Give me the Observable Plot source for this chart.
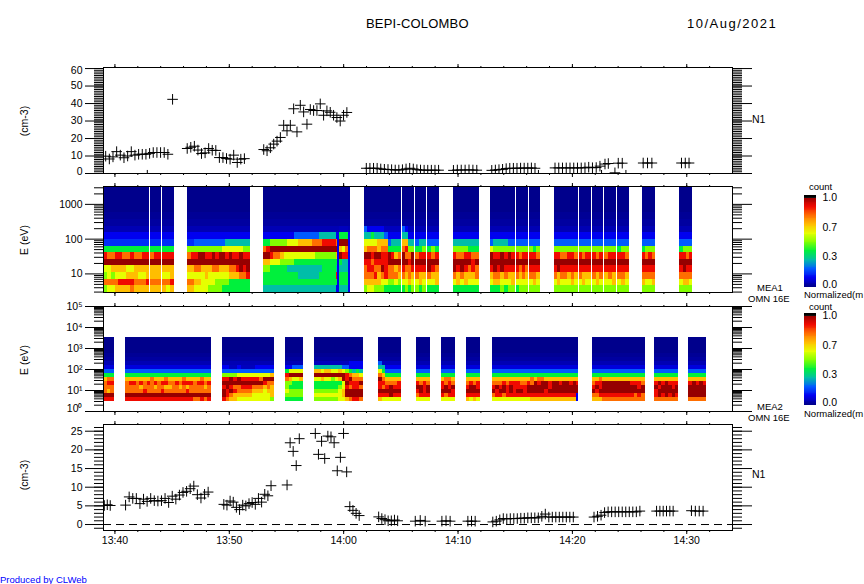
<!DOCTYPE html>
<html><head><meta charset="utf-8">
<script src="https://cdn.jsdelivr.net/npm/d3@7"></script>
<script src="https://cdn.jsdelivr.net/npm/@observablehq/plot@0.6"></script>
<style>
html,body{margin:0;padding:0;background:#fff}
#page{position:relative;width:864px;height:584px;overflow:hidden;font-family:"Liberation Sans",sans-serif;color:#000}
#page svg{position:absolute;left:0;display:block}
.t{position:absolute;white-space:nowrap;font-size:10.5px;line-height:9px}
.r{transform:translate(-50%,-50%) rotate(-90deg);transform-origin:center;line-height:12px}
</style></head><body><div id="page"></div>
<script>
// ---- scatter panels: [first minute after 13:00, last minute, values]
const n1Top = [
  [39.19,44.63,[9.9,8.3,9.5,12.5,10.5,9,10,12.5,10.5,11,11,11,11.5,12,12,12,12,11]],
  [45.04,45.04,[42.4]],
  [46.32,51.32,[14.3,15,15.6,13.4,11.4,11.8,14.3,13.3,13.2,9.1,9.1,8.6,8.2,10.5,6.3,8.2,8.5]],
  [53.01,60.28,[13.7,13,14.7,16.8,18.5,20.6,27.6,24.4,27.6,37,23.8,39,35.2,28.2,36.6,36,36,39.8,33.3,35.8,35,33.3,32,30,33.3,34.9]],
  [61.98,68.3,[3,3,3,3,2.6,2.4,2.3,2.2,2,2,2.2,2.6,3,2.6,2.2,2,1.9,1.9,1.9,1.9,1.9]],
  [69.6,71.64,[1.8,2,2,2,2.1,2,1.9]],
  [72.95,76.73,[1.8,2,2.2,2.4,2.8,3,3,3,3.1,3.1,3.1,3.2,3]],
  [78.48,82.41,[3.2,3.2,3.2,3.2,3.2,3.2,3.2,3.2,3.3,3.6,3.3,3.4,4.2]],
  [82.85,83.14,[5.4,5.7]],
  [84.01,84.36,[5.9,5.9]],
  [86.19,86.95,[6,6,6]],
  [89.54,90.2,[6,6,6]],
  [42.83,42.83,[-1]],[77.03,77.03,[-1]],[82.55,82.55,[-1]],[83.72,83.72,[0.4]],[84.68,84.68,[-1]]
];
const n1Bottom = [
  [39.07,39.59,[5.1,5.3,5.1]],
  [40.93,48.15,[5.2,7.4,7,7,5.6,6.8,6.2,7,6.4,6.3,6.4,7,5.9,7.6,6.8,7.9,8.6,8.9,9.6,10.3,8,7.1,8.1,8.7]],
  [49.52,53.65,[5.4,5.2,6.3,6,4.6,4,5.2,5,5.6,5.9,5.4,7,6,8.1,7.7,10.4]],
  [55.05,56.12,[10.6,21.9,19.6,15.8,23]],
  [57.52,61.36,[24.4,18.8,22.3,17.7,23.7,23.5,21.9,14.4,18,24.4,14.1,4.8,3.8,3,2.4]],
  [63.06,64.72,[2.05,1.6,1.3,1,1,1.2,1]],
  [66.26,67.13,[0.9,1.1,0.9]],
  [68.59,69.31,[0.9,1,0.9]],
  [70.86,71.5,[0.9,0.9,0.9]],
  [73.04,80.08,[0.7,0.9,1.25,1.6,1.5,1.6,1.6,1.6,1.7,1.7,1.8,1.8,1.8,1.8,2.2,2.8,2,2,2,2,2,2,2,2]],
  [81.89,85.9,[2,2.2,2.5,3.2,3.4,3.4,3.4,3.4,3.4,3.4,3.4,3.4,3.4,3.6]],
  [87.36,88.81,[3.6,3.6,3.6,3.6,3.6,3.6]],
  [90.41,91.43,[3.7,3.6,3.6,3.6]]
];
// ---- spectrogram channels (eV edges, top to bottom)
const energyEdges = [3266,2108,1358,877,565,365,235,152,98,63,40.6,26.2,16.9,10.9,7.03,4.54,2.92];
const mea1Upper = [0,0,0,0,0.01,0.02,0.04,0.1];
const mea2Upper = [0,0,0,0,0.01,0.02,0.04,0.08];
// blocks: [start minute, end minute, rows for the lowest channels, top to bottom]
// row digit = normalized count x 10 (a = 1.0, - = 0.05, + = 0.15)
const mea1Blocks = [
 [39,43.06,["111111111111","++++++++++++","444444444444","988998898899","aaaaaaaaaaaa","667777667777","565666777667","888899998889","566777787777"]],
 [43.14,44.08,["111","+++","444","899","aaa","777","777","888","777"]],
 [44.19,45.21,["111","+++","444","999","aaa","777","667","889","767"]],
 [46.35,51.85,["111111111111111111","++2222222223333333","555555555566666655","899aa99a9aa9a99a99","aaaaaaaaaaaaaaaaaa","778877788777889a9a","666667666666777889","887766665555444444","776666555544444444"]],
 [52.99,59.38,["111111111222222233333","445555566677778889999","89aaaaaaaaaaaaaaaaaaa","aa9887666666666555555","776665555444444444444","554444433333333334444","444444444433333344444","444444444444444444444","333333333333333333333"]],
 [59.38,59.47,["1","8","a","7","4","3","9","4","1"]],
 [59.47,59.6,["1","1","1","1","1","1","1","1","1"]],
 [59.63,60.42,["-","444","aaa","768","a99","433","333","444","444","333"]],
 [60.42,60.6,["1","1","1","1","1","1","1","1","1"]],
 [61.81,65.07,["211111-----","33433321111","66667772333","78887884444","aa9aa99a978","9989999aaaa","89988a98878","88897898887","77777665565","56655544444"]],
 [65.13,66.2,["21--","3311","7733","8955","a88a","aa9a","9889","8787","6676","4545"]],
 [66.29,67.25,["111","233","445","899","aaa","999","877","676","545"]],
 [67.34,68.36,["111","222","454","989","aaa","a98","877","667","444"]],
 [69.58,71.85,["1111111","3333333","5555444","9889988","aaaaa9a","a9a9898","8787778","6767666","4444444"]],
 [72.81,75,["1111111","2333322","6555555","a99a9a9","aaaaaaa","9a9a999","7887877","6776667","4445455"]],
 [75.08,76.16,["1111","2222","5555","9899","aaaa","9898","8787","6666","4555"]],
 [76.25,77.18,["111","222","545","998","aaa","999","887","676","555"]],
 [78.4,80.5,["1111111","2222222","5555555","9988998","aaaaaaa","9a99999","8788787","6766676","5555555"]],
 [80.59,81.66,["1111","2222","5555","9899","aaaa","9999","8777","6766","5555"]],
 [81.75,82.71,["111","222","555","989","aaa","999","878","676","555"]],
 [82.8,83.85,["111","222","555","899","aaa","999","787","667","555"]],
 [83.93,84.95,["111","222","455","998","aaa","999","887","676","555"]],
 [86.09,87.28,["1111","2222","4555","9898","aaaa","9999","8888","7667","5555"]],
 [89.4,90.54,["1111","2222","4555","9989","aaaa","9a99","8888","6776","5555"]]
];
const mea2Blocks = [
 [39.01,39.97,["222","444","788","899","888","878","aaa","999"]],
 [40.93,48.44,["222222222222222222222222","444444444444444444444444","777777787778777787777877","899898989899889899989989","888878887887788787888878","888889888898888889888888","aaaaaaaaaaaaaaaaaaaaaaaa","999999999999999999988989"]],
 [49.41,53.95,["11--1----11111","22222222222222","55556666666667","99a9a999998aaa","aaaaaaaaaaa988","9a988999888787","a9a98888777677","a9877777666667","98776666666665"]],
 [54.91,56.48,["11222","46666","9aaaa","87667","55444","54444","65555","55555","44444"]],
 [57.44,61.72,["----------1111","33333333221111","77677667654343","aaaaaaaaa98776","66766567a9a888","444444446a999a","44444445698998","555555567aaaaa","666666667aaaaa","55555556678998"]],
 [63.03,65.04,["2-----","331111","642222","874444","a87777","998889","989a99","aaaaaa","999a99","766666"]],
 [66.35,67.57,["2222","4444","7777","9898","aa9a","9a9a","8999","6666"]],
 [68.53,69.76,["2222","4444","7887","9898","9a9a","aaa9","9899","6666"]],
 [70.72,71.94,["2222","4444","7777","8989","9aa9","aaaa","9999","7676"]],
 [72.99,80.37,["222222222222222222222222","444444444444444444444444","777777777778788777777777","888989998898a9aa9aa9aa9a","9a9a9a9999aaaaaa9aaaaaaa","a9aa9a9aa9aaaaa9aaaaaaaa","899899999999999999999999","666666666667777777777777"]],
 [80.37,80.5,["2","4","7","9","a","a","1","1"]],
 [81.72,86.35,["222222222222222","444444444444444","778777777777777","899aaaaaaaa9998","9a9aaaaaaaaaa9a","a9aaaaaaaaaaaaa","889999999999898","777888888888888"]],
 [87.22,89.32,["2222222","4444444","7777777","9a9a999","a9aaa9a","9aaaaaa","9a9a9a9","8888888"]],
 [90.19,91.76,["22222","44444","77777","9a9a9","aaaaa","aaaaa","aaaaa","88888"]]
];
// ---- colour table
const colorLevels = [0,0.1,0.2,0.3,0.4,0.5,0.6,0.7,0.8,0.9,1];
const colorValues = ["#00008c","#0000f0","#005aff","#00bea8","#00f03c","#82ff00","#e6ff00","#ffbe00","#ff6e00","#f00a00","#960000"];
const timeMajor = [40,50,60,70,80,90];
const hhmm = ["13:40","13:50","14:00","14:10","14:20","14:30"];

const FONT = '"Liberation Sans",sans-serif';
const at = m => new Date(Date.UTC(2021,7,10,13,0) + m*60000);
const xDomain = [at(39), at(94)];
const majorT = timeMajor.map(at);
const minorT = d3.range(40,94,2).map(at);
const color = {type:"linear",domain:colorLevels,range:colorValues,interpolate:"rgb"};
const page = document.getElementById("page");

const pts = segs => segs.flatMap(([a,b,vs]) => vs.map((v,i)=>({t:at(vs.length>1? a+(b-a)*i/(vs.length-1):a),v})));
const decode = c => c==="-"?0.05 : c==="+"?0.15 : parseInt(c,11)/10;
function cells(blocks, upper){
  const out=[];
  for(const [a,b,rows] of blocks){
    const first=16-rows.length;
    for(let ch=0;ch<16;ch++){
      const row= ch>=first? rows[ch-first] : null;
      const n= row? row.length : 1;
      for(let i=0;i<n;i++){
        const v= row? decode(row[i]) : upper[ch];
        out.push({t1:at(a+(b-a)*i/n),t2:at(a+(b-a)*(i+1)/n),e1:energyEdges[ch+1],e2:energyEdges[ch],v});
      }
    }
  }
  return out;
}
const noText={fill:"none",label:null};
// yLabels: [[tick values], vertical text shift] groups, so that end labels sit just inside like the original
function frameAxes(yMajor,yMinor,fmt,yLabels,bottomLabels){
  return [
    Plot.axisX({anchor:"top",ticks:majorT,tickSize:4,...noText}),
    Plot.axisX({anchor:"top",ticks:minorT,tickSize:2,...noText}),
    bottomLabels
      ? Plot.axisX({anchor:"bottom",ticks:majorT,tickSize:4,tickPadding:2,label:null,fontSize:10.5,tickFormat:d=>hhmm[majorT.findIndex(q=>+q===+d)]})
      : Plot.axisX({anchor:"bottom",ticks:majorT,tickSize:4,...noText}),
    Plot.axisX({anchor:"bottom",ticks:minorT,tickSize:2,...noText}),
    Plot.axisY({anchor:"left",ticks:yMinor,tickSize:9,...noText}),
    Plot.axisY({anchor:"left",ticks:yMajor,tickSize:18,...noText}),
    ...yLabels.map(([ticks,dy])=>Plot.axisY({anchor:"left",ticks,tickSize:0,tickPadding:21,label:null,fontSize:10.5,dy,tickFormat:fmt})),
    Plot.axisY({anchor:"right",ticks:yMinor,tickSize:9,...noText}),
    Plot.axisY({anchor:"right",ticks:yMajor,tickSize:19,...noText}),
    Plot.frame({stroke:"#000",strokeWidth:1})
  ];
}
function panel(top,bottom,extraBottom,y,marks){
  const mt=6,mb=extraBottom;
  const svg=Plot.plot({width:864,height:bottom-top+mt+mb,marginLeft:103,marginRight:132,marginTop:mt,marginBottom:mb,
    style:{background:"transparent",fontFamily:FONT,fontSize:"10.5px",color:"#000"},
    x:{type:"utc",domain:xDomain,axis:null},y:{...y,axis:null},color,marks});
  svg.style.top=(top-mt)+"px";
  page.appendChild(svg);
}
const plusMark=segs=>Plot.dot(pts(segs),{x:"t",y:"v",symbol:"plus",r:3.5,stroke:"#000",strokeWidth:1,clip:true});
const specMark=(blocks,upper)=>Plot.rect(cells(blocks,upper),{x1:"t1",x2:"t2",y1:"e1",y2:"e2",fill:"v",shapeRendering:"crispEdges"});
const decades=(lo,hi)=>d3.range(lo,hi).flatMap(p=>[2,3,4,5,6,7,8,9].map(k=>k*10**p));
const sup=["\u2070","\u00b9","\u00b2","\u00b3","\u2074","\u2075"];

// panel 1: density
panel(67,173,6,{type:"linear",domain:[0,60.6]},[
  plusMark(n1Top),
  ...frameAxes([0,10,20,30,40,50,60],d3.range(0,61),d=>String(d),[[[10,20,30,40,50],0],[[60],2],[[0],-2]],false)
]);
// panel 2: MEA1 spectrogram
panel(186,292,6,{type:"log",domain:[2.92,3266]},[
  specMark(mea1Blocks,mea1Upper),
  ...frameAxes([10,100,1000],[3,4,5,6,7,8,9,...decades(1,3),2000,3000],d=>String(d),[[[10,100,1000],0]],false)
]);
// panel 3: MEA2 spectrogram
panel(306,411,6,{type:"log",domain:[1,1e5]},[
  specMark(mea2Blocks,mea2Upper),
  ...frameAxes([1,10,100,1e3,1e4,1e5],decades(0,5),d=>"10"+sup[Math.round(Math.log10(d))],[[[10,100,1e3,1e4,1e5],0],[[1],-3]],false)
]);
// panel 4: density
panel(424,530,24,{type:"linear",domain:[-1.6,26.8]},[
  Plot.ruleY([0],{stroke:"#000",strokeWidth:1,strokeDasharray:"8 5"}),
  plusMark(n1Bottom),
  ...frameAxes([0,5,10,15,20,25],d3.range(-1,27),d=>String(d),[[[0,5,10,15,20,25],0]],true)
]);

// colour bars
const barLevels=d3.range(0,1,0.01);
function colorbar(top){
  const mt=9,mb=5;
  const barAxis=(ticks,dy)=>Plot.axisY({anchor:"right",ticks,tickSize:0,tickPadding:6,label:null,fontSize:10.5,dy,tickFormat:d=>d.toFixed(1)});
  const svg=Plot.plot({width:60,height:92+mt+mb,marginLeft:9,marginRight:39,marginTop:mt,marginBottom:mb,
    style:{background:"transparent",fontFamily:FONT,fontSize:"10.5px",color:"#000"},
    x:{domain:[0,1],axis:null},y:{domain:[0,1.033],axis:null},color,
    marks:[
      Plot.rect(barLevels,{x1:0,x2:1,y1:d=>d,y2:d=>d+0.01,fill:d=>d,shapeRendering:"crispEdges"}),
      Plot.rect([1],{x1:0,x2:1,y1:1,y2:1.033,fill:"#000"}),
      barAxis([1/3,2/3,1],-1),
      barAxis([0],-3)
    ]});
  svg.style.top=(top-mt)+"px"; svg.style.left="795px";
  page.appendChild(svg);
}
colorbar(195); colorbar(313);

// text
const small={fontSize:"9.5px"};
const labels=[
  ["BEPI-COLOMBO",366,19,{fontSize:"13px",letterSpacing:"0.2px"}],
  ["10/Aug/2021",687,19,{fontSize:"13px",letterSpacing:"1.5px"}],
  ["N1",752,115,{}],["N1",752,470,{}],
  ["MEA1",757,283,small],["OMN 16E",748,294,small],
  ["MEA2",757,402,small],["OMN 16E",748,413,small],
  ["count",809,182,small],["Normalized(m",804,290,small],
  ["count",809,302,small],["Normalized(m",804,409,small],
  ["Produced by CLWeb",0,575,{color:"#0000ff",fontSize:"9.5px"}]
];
for(const [s,x,y,st] of labels){
  const d=document.createElement("div");d.className="t";d.textContent=s;d.style.left=x+"px";d.style.top=y+"px";
  Object.assign(d.style,st);page.appendChild(d);
}
for(const [s,y] of [["(cm-3)",121],["E (eV)",240],["E (eV)",360],["(cm-3)",475]]){
  const d=document.createElement("div");d.className="t r";d.textContent=s;d.style.left="24px";d.style.top=y+"px";page.appendChild(d);
}
</script></body></html>
